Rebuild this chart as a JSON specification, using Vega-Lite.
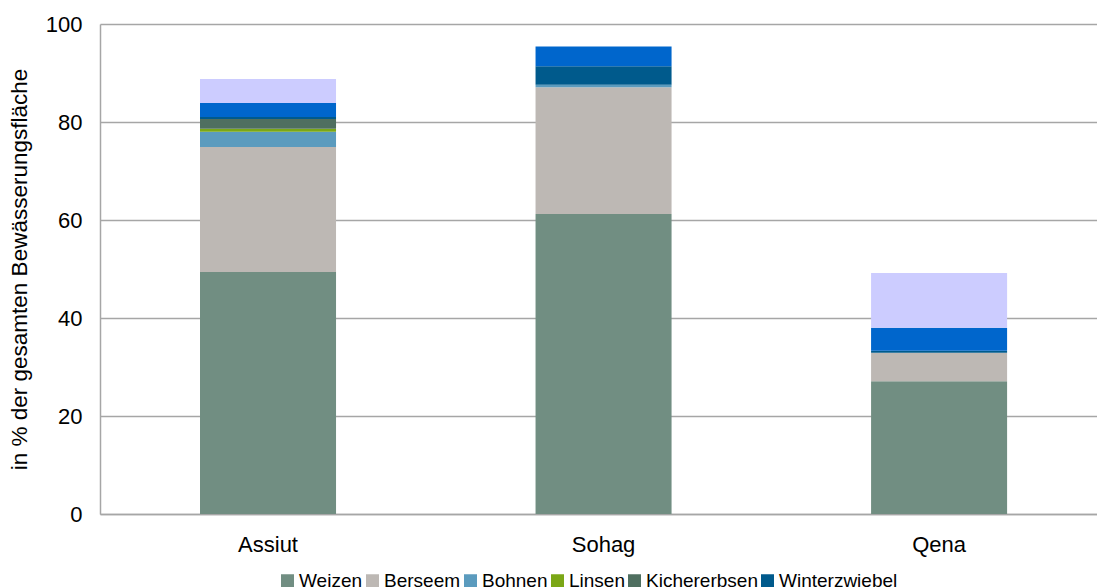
{
  "$schema": "https://vega.github.io/schema/vega-lite/v6.json",
  "width": 997,
  "height": 490,
  "autosize": {"type": "none"},
  "padding": {"left": 100, "top": 24, "right": 0, "bottom": 73},
  "background": "white",
  "config": {
    "font": "Liberation Sans",
    "view": {"stroke": null},
    "axis": {"labelColor": "#000000", "titleColor": "#000000", "labelFont": "Liberation Sans", "titleFont": "Liberation Sans"}
  },
  "data": {
    "values": [
      {"region": "Assiut", "crop": "Weizen", "rank": 1, "pct": 49.4},
      {"region": "Assiut", "crop": "Berseem", "rank": 2, "pct": 25.5},
      {"region": "Assiut", "crop": "Bohnen", "rank": 3, "pct": 3.1},
      {"region": "Assiut", "crop": "Linsen", "rank": 4, "pct": 0.6},
      {"region": "Assiut", "crop": "Kichererbsen", "rank": 5, "pct": 2.0},
      {"region": "Assiut", "crop": "Winterzwiebel", "rank": 6, "pct": 0.4},
      {"region": "Assiut", "crop": "Wintergemüse", "rank": 7, "pct": 2.9},
      {"region": "Assiut", "crop": "Sonstige", "rank": 8, "pct": 4.9},
      {"region": "Sohag", "crop": "Weizen", "rank": 1, "pct": 61.2},
      {"region": "Sohag", "crop": "Berseem", "rank": 2, "pct": 25.9},
      {"region": "Sohag", "crop": "Bohnen", "rank": 3, "pct": 0.5},
      {"region": "Sohag", "crop": "Winterzwiebel", "rank": 6, "pct": 3.8},
      {"region": "Sohag", "crop": "Wintergemüse", "rank": 7, "pct": 4.0},
      {"region": "Qena", "crop": "Weizen", "rank": 1, "pct": 27.1},
      {"region": "Qena", "crop": "Berseem", "rank": 2, "pct": 5.8},
      {"region": "Qena", "crop": "Winterzwiebel", "rank": 6, "pct": 0.4},
      {"region": "Qena", "crop": "Wintergemüse", "rank": 7, "pct": 4.7},
      {"region": "Qena", "crop": "Sonstige", "rank": 8, "pct": 11.2}
    ]
  },
  "mark": {"type": "bar"},
  "encoding": {
    "x": {
      "field": "region",
      "type": "nominal",
      "sort": ["Assiut", "Sohag", "Qena"],
      "scale": {"paddingInner": 0.5946, "paddingOuter": 0.283, "align": 0.5266},
      "axis": {
        "title": null,
        "labelAngle": 0,
        "labelFontSize": 22,
        "labelPadding": 20,
        "ticks": false,
        "domainColor": "#a6a6a6",
        "domainWidth": 1.5
      }
    },
    "y": {
      "field": "pct",
      "type": "quantitative",
      "stack": "zero",
      "scale": {"domain": [0, 100], "nice": false},
      "axis": {
        "title": "in % der gesamten Bewässerungsfläche",
        "titleFontSize": 22.5,
        "titleFontWeight": "normal",
        "titlePadding": 14,
        "values": [0, 20, 40, 60, 80, 100],
        "labelFontSize": 22,
        "labelPadding": 18,
        "ticks": false,
        "domainColor": "#a6a6a6",
        "domainWidth": 1.5,
        "gridColor": "#a6a6a6",
        "gridWidth": 1.5
      }
    },
    "order": {"field": "rank", "type": "quantitative", "sort": "ascending"},
    "color": {
      "field": "crop",
      "type": "nominal",
      "scale": {
        "domain": ["Weizen", "Berseem", "Bohnen", "Linsen", "Kichererbsen", "Winterzwiebel", "Wintergemüse", "Sonstige"],
        "range": ["#718E82", "#BDB8B4", "#5B9BBE", "#7BA716", "#4F6F60", "#005A8C", "#0066CC", "#CCCCFF"]
      },
      "legend": {
        "title": null,
        "values": ["Weizen", "Berseem", "Bohnen", "Linsen", "Kichererbsen", "Winterzwiebel"],
        "orient": "none",
        "direction": "horizontal",
        "legendX": 178,
        "legendY": 547,
        "symbolType": "square",
        "symbolSize": 169,
        "symbolStrokeWidth": 0,
        "labelFontSize": 19,
        "labelColor": "#000000",
        "labelOffset": 2,
        "columnPadding": 0
      }
    }
  }
}
